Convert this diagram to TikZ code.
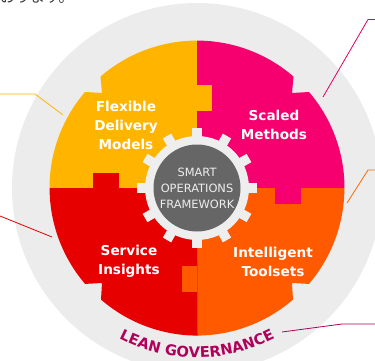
\documentclass[tikz,border=0pt]{standalone}
\usepackage{fontspec}
\setmainfont{DejaVu Sans}
\newfontfamily\cjk{Noto Sans CJK JP}
\usetikzlibrary{decorations.text}
\definecolor{ringgrey}{HTML}{ECECEC}
\definecolor{gearwhite}{HTML}{EEEEEE}
\definecolor{hubgrey}{HTML}{666666}
\definecolor{cyellow}{HTML}{FFB400}
\definecolor{cpink}{HTML}{F5006E}
\definecolor{cred}{HTML}{E60000}
\definecolor{corange}{HTML}{FF5A00}
\definecolor{cmag}{HTML}{B0005A}
\tikzset{x=1pt,y=-1pt,
  seglabel/.style={text=white,font=\fontsize{13.6}{19}\selectfont\bfseries,align=center,inner sep=0pt},
  hublabel/.style={text=gearwhite,font=\fontsize{11.4}{16}\selectfont,align=center,inner sep=0pt},
  leader/.style={line width=0.8pt}}
\begin{document}
\begin{tikzpicture}
\useasboundingbox (0,0) rectangle (375,361);
\clip (0,0) rectangle (375,361);
\coordinate (C) at (197,188);
\node[anchor=base west,inner sep=0pt,text=black!80,font=\cjk\fontsize{15}{15}\selectfont] (topnote) at (0,2.5) {おります。};
\fill[ringgrey] (C) circle[radius=185pt];
% puzzle quarters
\fill[cyellow] (197,40.6) arc[start angle=90,end angle=130.9,radius=147.4pt] -- (102,93) -- (85,92)
  arc[start angle=139.4,end angle=180,radius=147.4pt] -- (197,188) -- cycle;
\fill[cpink] (197,40.6) arc[start angle=90,end angle=49.1,radius=147.4pt] -- (292,93) -- (309,92)
  arc[start angle=40.6,end angle=0,radius=147.4pt] -- (197,188) -- cycle;
\fill[corange] (344.4,188) arc[start angle=0,end angle=-40.6,radius=147.4pt] -- (292,283) -- (293,299.6)
  arc[start angle=-49.1,end angle=-90,radius=147.4pt] -- (197,188) -- cycle;
\fill[cred] (49.6,188) arc[start angle=180,end angle=220.6,radius=147.4pt] -- (102,283) -- (101,299.6)
  arc[start angle=229.1,end angle=270,radius=147.4pt] -- (197,188) -- cycle;
% puzzle tabs
\fill[cyellow] (197,85) rectangle (212,111);
\fill[cpink] (275,188) rectangle (301,204);
\fill[cred] (93,173) rectangle (119,188);
\fill[corange] (182,266) rectangle (197,292);
% gear
\fill[gearwhite] (C) circle[radius=52pt];
\foreach \a in {0,30,...,330}{
  \fill[gearwhite,shift={(C)},rotate=\a] (-4.8,-42) rectangle (4.8,-60);
}
\fill[hubgrey] (C) circle[radius=43.5pt];
\node[hublabel] (hub) at (197,188) {SMART\\OPERATIONS\\FRAMEWORK};
% labels
\node[seglabel] (flex) at (126,125) {Flexible\\Delivery\\Models};
\node[seglabel] (scaled) at (274,124.5) {Scaled\\Methods};
\node[seglabel] (service) at (129,261.5) {Service\\Insights};
\node[seglabel] (tools) at (273,261.5) {Intelligent\\Toolsets};
% lean governance
\path[postaction={decorate,decoration={text along path,text align=center,
   text={|\fontsize{14.7}{14.7}\selectfont\bfseries\color{cmag}|LEAN GOVERNANCE}}}]
  (C) ++(225:169.5pt) arc[start angle=225,end angle=315,radius=169.5pt];
% leaders
\coordinate (y0) at (0,94); \coordinate (y1) at (35,94); \coordinate (y2) at (63,115);
\draw[leader,cyellow] (y0) -- (y1) -- (y2);
\coordinate (p0) at (375,19.5); \coordinate (p1) at (368,19.5); \coordinate (p2) at (323,97);
\draw[leader,cpink!90!black] (p0) -- (p1) -- (p2);
\coordinate (o0) at (375,170); \coordinate (o1) at (368,170); \coordinate (o2) at (347,203);
\draw[leader,corange!90!yellow] (o0) -- (o1) -- (o2);
\coordinate (r0) at (0,216); \coordinate (r1) at (52,237);
\draw[leader,cred] (r0) -- (r1);
\coordinate (m0) at (375,324); \coordinate (m1) at (342,324); \coordinate (m2) at (282,332);
\draw[leader,cmag] (m0) -- (m1) -- (m2);
\end{tikzpicture}
\end{document}
